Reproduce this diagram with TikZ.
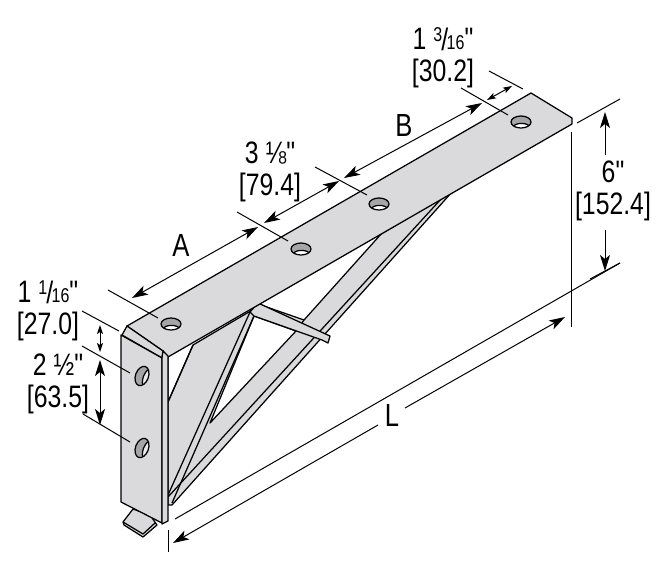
\documentclass[tikz,border=0pt]{standalone}
\usepackage{fontspec}
\newfontfamily\dimfont{Liberation Sans}[FakeStretch=0.8]
\usetikzlibrary{arrows.meta}
\definecolor{steel}{HTML}{DADADC}
\definecolor{holegray}{HTML}{A5A5A7}
\newcommand{\slashfrac}[2]{\raisebox{.26em}{\fontsize{20}{20}\selectfont #1}\kern-.03em\raisebox{-.02em}{\fontsize{31}{31}\selectfont /}\kern-.05em{\fontsize{20}{20}\selectfont #2}}
\tikzset{
    part/.style={draw=black, fill=steel, line width=1.25pt, line join=round},
    edge/.style={draw=black, line width=1.25pt},
    gapfill/.style={draw=black, fill=white, line width=1.25pt, line join=round},
    extline/.style={draw=black, line width=1pt},
    dimline/.style={draw=black, line width=1pt, {Stealth[length=16pt,width=10pt,inset=4pt]}-{Stealth[length=16pt,width=10pt,inset=4pt]}},
    dimhalf/.style={draw=black, line width=1pt, -{Stealth[length=16pt,width=10pt,inset=4pt]}},
    dimsmall/.style={draw=black, line width=1pt, {Stealth[length=9pt,width=6pt,inset=2pt]}-{Stealth[length=9pt,width=6pt,inset=2pt]}},
    dimtext/.style={font=\dimfont\fontsize{31}{32}\selectfont, align=center, inner sep=0pt},
    lettertext/.style={font=\dimfont\fontsize{32}{32}\selectfont, inner sep=0pt},
}
\begin{document}
\begin{tikzpicture}[x=1pt, y=-1pt]
    \useasboundingbox (0,0) rectangle (668,563);

    % small tab under the plate
    \draw[part] (133,509) -- (123,522) -- (124,525) -- (143,537) -- (157,525) -- (150,515) -- cycle;
    \draw[edge] (123,522) -- (143,534) -- (155,523);

    % web
    \draw[part] (168,402) -- (193,345) -- (452,192) -- (172,505) -- (168,505) -- cycle;
    \draw[edge] (168,357) -- (168,402) -- (193,345);
    \draw[gapfill] (254,316) -- (296,331) -- (210,423) -- cycle;
    \draw[gapfill] (258,304) -- (382,233) -- (304,320) -- cycle;
    \draw[edge] (296,331) -- (304,320);
    \draw[edge] (442,198) -- (168,497);
    \draw[edge] (250,312) -- (168,495);
    \draw[edge] (254,316) -- (172,503);
    % bent bar
    \draw[part] (258,303) -- (330,336) -- (328,343) -- (322,340) -- (254,316) -- (250,312) -- cycle;

    % top flange
    \draw[part] (127,326) -- (531,93) -- (572,118) -- (572,124) -- (168,357) -- (163,351) -- cycle;
    % front plate
    \draw[part] (127,326) -- (163,351) -- (162,358) -- (122,335) -- cycle;
    \draw[part] (121,335) -- (162,358) -- (162,523) -- (121,502) -- cycle;
    \draw[part] (162,358) -- (163,351) -- (168,356) -- (168,521) -- (162,524) -- cycle;

    % holes in the flange
    \foreach \hx/\hy in {171/324, 301/249, 379/204, 521/122} {
        \begin{scope}[shift={(\hx,\hy)}]
            \fill[holegray] (0,0) ellipse (10 and 6);
            \begin{scope}
                \clip (0,0) ellipse (10 and 6);
                \filldraw[fill=white, edge] (0.5,5) ellipse (8 and 3.6);
            \end{scope}
            \draw[edge] (0,0) ellipse (10 and 6);
        \end{scope}
    }
    % holes in the plate
    \foreach \hx/\hy in {142/376, 142/448} {
        \begin{scope}[shift={(\hx,\hy)}, rotate=-20]
            \fill[holegray] (0,0) ellipse (6.5 and 10);
            \begin{scope}
                \clip (0,0) ellipse (6.5 and 10);
                \filldraw[fill=steel!60!white, edge] (5.5,0) ellipse (4 and 9);
            \end{scope}
            \draw[edge] (0,0) ellipse (6.5 and 10);
        \end{scope}
    }

    % extension lines
    \draw[extline] (108,290) -- (158,318);
    \draw[extline] (237,212) -- (288,241);
    \draw[extline] (315,167) -- (367,195);
    \draw[extline] (461,88) -- (508,115);
    \draw[extline] (489,71) -- (523,89);
    \draw[extline] (82,311) -- (119,331);
    \draw[extline] (82,346) -- (130,373);
    \draw[extline] (83,414) -- (130,442);
    \draw[extline] (577,123) -- (620,99);
    \draw[extline] (590,279) -- (620,263);
    \draw[extline] (175,519) -- (620,263);
    \draw[extline] (571,132) -- (571,327);
    \draw[extline] (168,530) -- (168,552);

    % dimensions
    \draw[dimline] (132,298) -- (258,227);
    \draw[dimline] (264,223) -- (339,181);
    \draw[dimline] (344,178) -- (482,103);
    \draw[dimsmall] (487,100) -- (512,86);
    \draw[dimsmall] (100,325) -- (100,352);
    \draw[dimline] (100,360) -- (100,425);
    \draw[dimhalf] (605,155) -- (605,112);
    \draw[dimhalf] (605,230) -- (605,271);
    \draw[dimhalf] (378,425) -- (173,543);
    \draw[dimhalf] (405,408) -- (565,317);

    % labels
    \node[dimtext] (topedge) at (443,58) {1 \slashfrac{3}{16}"\\{}[30.2]};
    \node[dimtext] (holepitch) at (270,172) {3 ⅛"\\{}[79.4]};
    \node[dimtext] (leftedge) at (48,311) {1 \slashfrac{1}{16}"\\{}[27.0]};
    \node[dimtext] (platepitch) at (58,384) {2 ½"\\{}[63.5]};
    \node[dimtext] (depth) at (613,191) {6"\\{}[152.4]};
    \node[lettertext] (lenA) at (181,245) {A};
    \node[lettertext] (lenB) at (404,125) {B};
    \node[lettertext] (lenL) at (392,415) {L};
\end{tikzpicture}
\end{document}
